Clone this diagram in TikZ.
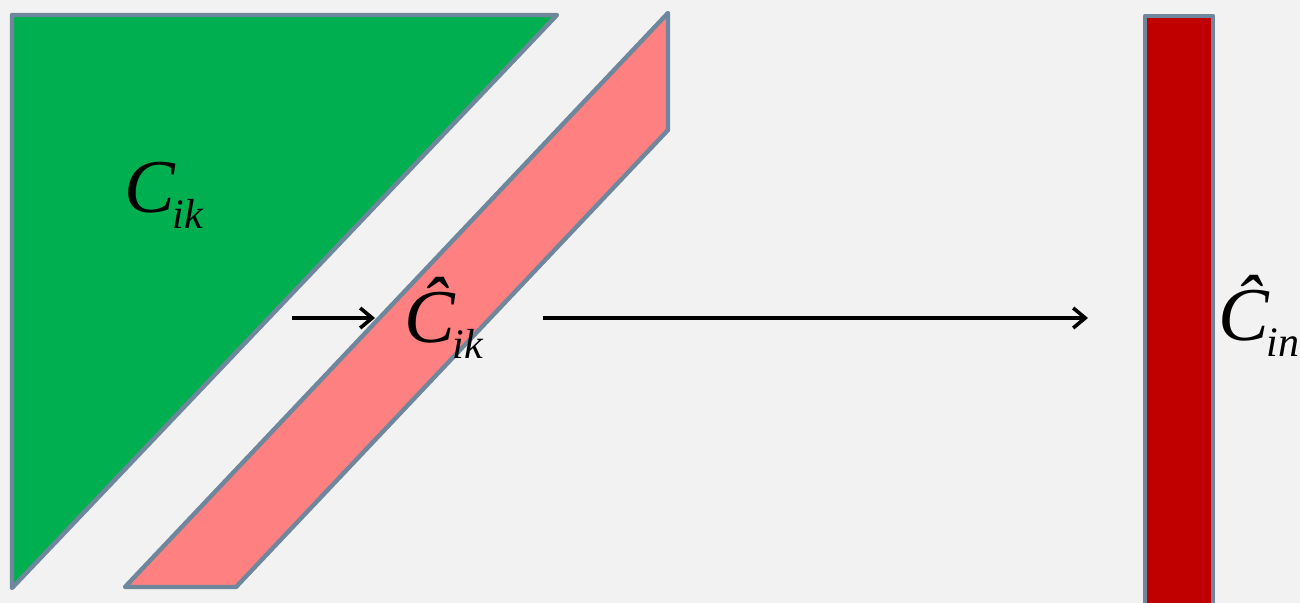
\documentclass[tikz,border=0pt]{standalone}
\usepackage{fontspec}
\setmainfont{Liberation Serif}
\usepackage{tikz}
\usetikzlibrary{arrows.meta,positioning}
\definecolor{bgGray}{RGB}{242,242,242}
\definecolor{edgeLine}{RGB}{110,135,156}
\definecolor{blockGreen}{RGB}{0,176,80}
\definecolor{blockPink}{RGB}{255,128,128}
\definecolor{blockRed}{RGB}{192,0,0}
\newcommand{\blkname}[2]{\itshape #1\kern-0.03em\raisebox{-0.2em}{\fontsize{21}{24}\selectfont #2}}

\begin{document}
\begin{tikzpicture}[
  x=0.5pt, y=-0.5pt,
  blk/.style={draw=edgeLine, line width=2.2pt, line join=round},
  lbl/.style={font=\fontsize{38}{42}\selectfont, inner sep=0pt, anchor=base west},
  arr/.style={-{Straight Barb[length=6pt,width=10pt,line width=1.8pt]}, line width=1.6pt, black}
]
\fill[bgGray] (0,0) rectangle (1300,603);
\clip (0,0) rectangle (1300,603);
% blocks
\draw[blk, fill=blockGreen] (12,15) -- (557,15) -- (12,588) -- cycle;
\draw[blk, fill=blockPink] (125,587) -- (668,13) -- (668,130) -- (236,587) -- cycle;
\draw[blk, fill=blockRed] (1145,16) rectangle (1213,640);
% labels
\node[lbl] (cik) at (124,213) {\blkname{C}{ik}};
\node[lbl] (chatik) at (404,343) {\blkname{\^{C}}{ik}};
\node[lbl] (chatin) at (1218,341) {\blkname{\^{C}}{in}};
% arrows
\coordinate (gapL) at (292,318);
\coordinate (bandL) at (375,318);
\coordinate (outR) at (543,318);
\coordinate (barL) at (1088,318);
\draw[arr] (gapL) -- (bandL);
\draw[arr] (outR) -- (barL);
\end{tikzpicture}
\end{document}
